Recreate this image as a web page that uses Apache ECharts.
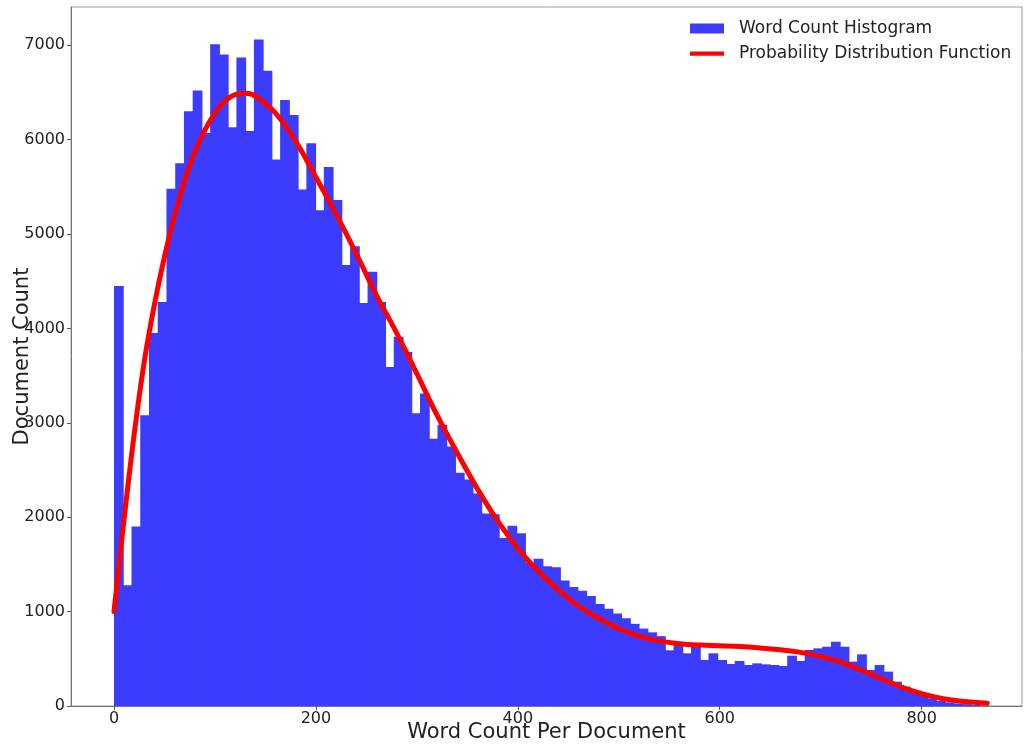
<!DOCTYPE html>
<html>
<head>
<meta charset="utf-8">
<script src="https://cdn.jsdelivr.net/npm/echarts@6/dist/echarts.min.js"></script>
<style>html,body{margin:0;padding:0;background:#fff}#c{width:1024px;height:745px}</style>
</head>
<body>
<div id="c"></div>
<script>
// Histogram: bins start at 0, each 8.66 words wide
const binStart = 0;
const binWidth = 8.66;
const binCounts = [
  4450, 1280, 1900, 3080, 3950, 4280, 5480, 5750, 6300, 6520,
  6070, 7010, 6900, 6130, 6870, 6090, 7060, 6730, 5790, 6420,
  6260, 5470, 5960, 5250, 5710, 5360, 4670, 4870, 4270, 4600,
  4280, 3590, 3910, 3750, 3100, 3310, 2830, 2980, 2750, 2470,
  2400, 2250, 2040, 2030, 1780, 1910, 1830, 1520, 1560, 1480,
  1470, 1330, 1260, 1220, 1165, 1080, 1030, 980, 930, 870,
  820, 780, 740, 590, 646, 558, 628, 487, 558, 487,
  445, 477, 434, 452, 441, 434, 424, 533, 477, 593,
  611, 628, 681, 628, 470, 547, 381, 434, 364, 258,
  205, 152, 117, 81, 53, 39, 28, 20, 10, 5
];
// Probability distribution curve (scaled to counts)
const pdfX = [0, 10, 20, 30, 40, 50, 60, 70, 80, 90, 100, 110, 120, 130, 140, 160, 180, 200, 220, 240, 260, 280, 300, 320, 340, 360, 380, 400, 420, 440, 460, 480, 500, 520, 540, 560, 580, 600, 620, 640, 660, 680, 700, 720, 740, 760, 780, 800, 820, 840, 865];
const pdfY = [1000, 1980, 2880, 3650, 4250, 4760, 5200, 5570, 5870, 6100, 6280, 6410, 6475, 6490, 6460, 6280, 5980, 5600, 5210, 4790, 4350, 3950, 3520, 3080, 2680, 2300, 1960, 1670, 1430, 1230, 1060, 930, 820, 740, 690, 660, 645, 638, 630, 615, 595, 568, 525, 465, 380, 290, 200, 130, 80, 50, 30];
const xTicks = [0, 200, 400, 600, 800];
const yTicks = [0, 1000, 2000, 3000, 4000, 5000, 6000, 7000];

const histData = binCounts.map((c, i) => [binStart + i * binWidth, binStart + (i + 1) * binWidth, c]);
const pdfData = pdfX.map((x, i) => [x, pdfY[i]]);

const FONT = 'DejaVu Sans';
const BLUE = '#3c3cff';
const chart = echarts.init(document.getElementById('c'), null, {renderer: 'canvas'});
chart.setOption({
  animation: false,
  backgroundColor: '#ffffff',
  textStyle: {fontFamily: FONT},
  grid: {left: 71, right: 2, top: 7, bottom: 39, show: true, borderColor: '#999', borderWidth: 1,
         backgroundColor: 'transparent', containLabel: false, outerBoundsMode: 'none'},
  legend: {
    orient: 'vertical',
    left: 690,
    top: 20,
    padding: 0,
    itemWidth: 34,
    itemHeight: 10,
    itemGap: 8,
    textStyle: {fontFamily: FONT, fontSize: 17, color: '#222', padding: [0, 0, 0, 10]},
    data: [
      {name: 'Word Count Histogram', icon: 'rect', itemStyle: {color: BLUE}},
      {name: 'Probability Distribution Function', icon: 'path://M0,0H40V5H0Z', itemStyle: {color: '#ff0000'}}
    ]
  },
  xAxis: {
    type: 'value',
    min: -42.6,
    max: 899.4,
    name: 'Word Count Per Document',
    nameLocation: 'middle',
    nameGap: 16,
    nameMoveOverlap: false,
    nameTextStyle: {fontFamily: FONT, fontSize: 21, color: '#222'},
    axisLine: {show: true, onZero: false, lineStyle: {color: '#777', width: 1}},
    axisTick: {show: true, length: 4, inside: false, customValues: xTicks, lineStyle: {color: '#555'}},
    axisLabel: {fontFamily: FONT, fontSize: 16, color: '#222', margin: 5, customValues: xTicks,
                formatter: v => String(v)},
    splitLine: {show: false}
  },
  yAxis: {
    type: 'value',
    min: 0,
    max: 7404,
    name: 'Document Count',
    nameLocation: 'middle',
    nameGap: 38,
    nameMoveOverlap: false,
    nameTextStyle: {fontFamily: FONT, fontSize: 21, color: '#222'},
    axisLine: {show: true, onZero: false, lineStyle: {color: '#777', width: 1}},
    axisTick: {show: true, length: 4, inside: false, customValues: yTicks, lineStyle: {color: '#555'}},
    axisLabel: {fontFamily: FONT, fontSize: 16, color: '#222', margin: 6, customValues: yTicks,
                formatter: v => String(v)},
    splitLine: {show: false}
  },
  series: [
    {
      name: 'Word Count Histogram',
      type: 'custom',
      itemStyle: {color: BLUE},
      encode: {x: [0, 1], y: 2},
      data: histData,
      z: 2,
      renderItem: function (params, api) {
        const p0 = api.coord([api.value(0), api.value(2)]);
        const p1 = api.coord([api.value(1), 0]);
        return {
          type: 'rect',
          shape: {x: p0[0], y: p0[1], width: p1[0] - p0[0] + 1, height: p1[1] - p0[1]},
          style: {fill: BLUE, stroke: null}
        };
      }
    },
    {
      name: 'Probability Distribution Function',
      type: 'line',
      data: pdfData,
      smooth: 0.4,
      symbol: 'none',
      showSymbol: false,
      z: 5,
      itemStyle: {color: '#ff0000'},
      lineStyle: {color: '#ff0000', width: 5, cap: 'round'}
    }
  ]
});
</script>
</body>
</html>
